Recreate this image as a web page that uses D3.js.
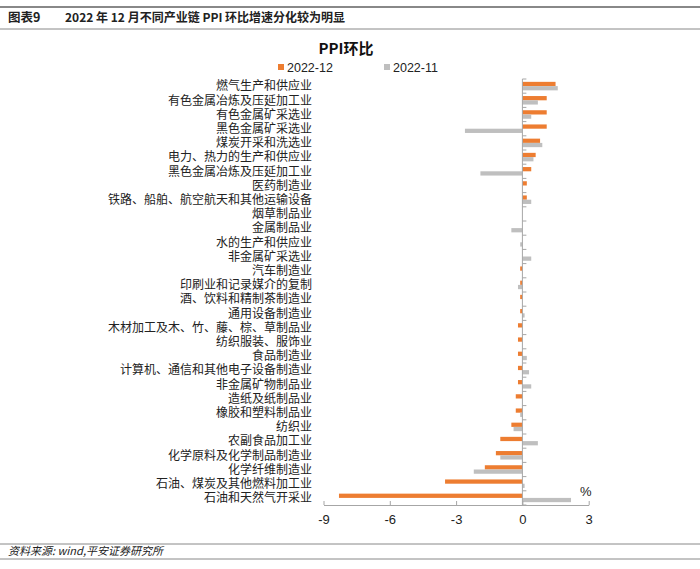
<!DOCTYPE html>
<html><head><meta charset="utf-8">
<script src="https://cdn.jsdelivr.net/npm/d3@7"></script>
<style>
body{margin:0;background:#fff;}
svg{display:block;font-family:"Liberation Sans","Noto Sans CJK SC",sans-serif;}
</style></head>
<body><svg id="c" width="700" height="569"></svg>
<script>
const categories = ["燃气生产和供应业","有色金属冶炼及压延加工业","有色金属矿采选业","黑色金属矿采选业","煤炭开采和洗选业","电力、热力的生产和供应业","黑色金属冶炼及压延加工业","医药制造业","铁路、船舶、航空航天和其他运输设备","烟草制品业","金属制品业","水的生产和供应业","非金属矿采选业","汽车制造业","印刷业和记录媒介的复制","酒、饮料和精制茶制造业","通用设备制造业","木材加工及木、竹、藤、棕、草制品业","纺织服装、服饰业","食品制造业","计算机、通信和其他电子设备制造业","非金属矿物制品业","造纸及纸制品业","橡胶和塑料制品业","纺织业","农副食品加工业","化学原料及化学制品制造业","化学纤维制造业","石油、煤炭及其他燃料加工业","石油和天然气开采业"];
const series12 = [1.5,1.1,1.1,1.1,0.8,0.6,0.4,0.2,0.2,0,0,0,0,-0.1,-0.1,-0.1,-0.1,-0.2,-0.2,-0.2,-0.2,-0.2,-0.3,-0.3,-0.5,-1.0,-1.2,-1.7,-3.5,-8.3];
const series11 = [1.6,0.7,0.4,-2.6,0.9,0.5,-1.9,0,0.4,0,-0.5,-0.1,0.4,0,-0.2,0,0.1,0,0,0.2,0.3,0.4,0,-0.1,-0.4,0.7,-1.0,-2.2,0.1,2.2];
const seriesNames = ["2022-12","2022-11"];
const xTicks = [-9,-6,-3,0,3];
const colors = ["#ED7D31","#BFBFBF"];

const svg = d3.select("#c");
// header
svg.append("line").attr("x1",0).attr("x2",700).attr("y1",7).attr("y2",7).attr("stroke","#888").attr("stroke-width",2);
svg.append("line").attr("x1",0).attr("x2",700).attr("y1",29).attr("y2",29).attr("stroke","#888").attr("stroke-width",1);
svg.append("text").attr("x",8).attr("y",22).attr("font-size",12.5).attr("font-weight","bold").attr("fill","#222")
  .attr("font-family","'Noto Sans CJK SC',sans-serif").text("图表9");
svg.append("text").attr("x",65).attr("y",22).attr("font-size",12).attr("font-weight","bold").attr("fill","#222")
  .attr("font-family","'Noto Sans CJK SC',sans-serif").text("2022 年 12 月不同产业链 PPI 环比增速分化较为明显");
// footer
svg.append("line").attr("x1",0).attr("x2",700).attr("y1",544).attr("y2",544).attr("stroke","#888").attr("stroke-width",1);
svg.append("line").attr("x1",0).attr("x2",700).attr("y1",559).attr("y2",559).attr("stroke","#888").attr("stroke-width",1);
svg.append("text").attr("x",8).attr("y",555).attr("font-size",11).attr("font-style","italic").attr("fill","#222")
  .attr("font-family","'Noto Sans CJK SC',sans-serif").text("资料来源: wind,平安证券研究所");

// title
svg.append("text").attr("x",346).attr("y",54).attr("text-anchor","middle").attr("font-size",15).attr("font-weight","bold")
  .attr("font-family","'Noto Sans CJK SC',sans-serif").attr("fill","#111").text("PPI环比");
// legend
const legX = [278,384];
seriesNames.forEach((n,i)=>{
  svg.append("rect").attr("x",legX[i]).attr("y",64).attr("width",6).attr("height",6).attr("fill",colors[i]);
  svg.append("text").attr("x",legX[i]+9).attr("y",71.5).attr("font-size",12.5).attr("fill","#222").text(n);
});

const x = d3.scaleLinear().domain([-9,3]).range([323.5,588.7]);
const y = d3.scaleBand().domain(categories).range([79,505]).paddingInner(0.4).paddingOuter(0.2);
const bh = y.bandwidth()/2;

const g = svg.append("g");
categories.forEach((c,i)=>{
  [series12[i],series11[i]].forEach((v,j)=>{
    if(v===0) return;
    g.append("rect").attr("x",x(Math.min(0,v))).attr("width",Math.abs(x(v)-x(0)))
      .attr("y",y(c)+j*bh).attr("height",bh).attr("fill",colors[j]);
  });
});

// x axis
const xa = svg.append("g").attr("transform","translate(0,505)")
  .call(d3.axisBottom(x).tickValues(xTicks).tickFormat(d=>String(d)).tickSizeInner(-4).tickSizeOuter(0).tickPadding(10));
xa.select(".domain").attr("stroke","#A6A6A6");
xa.selectAll(".tick line").attr("stroke","#A6A6A6");
xa.selectAll("text").attr("font-size",13).attr("fill","#222").attr("font-family","'Liberation Sans',sans-serif");

// y axis line at zero with ticks at band boundaries
const x0 = x(0);
svg.append("line").attr("x1",x0).attr("x2",x0).attr("y1",79).attr("y2",505).attr("stroke","#A6A6A6");
for(let i=0;i<=categories.length;i++){
  const yy = 79 + i*y.step();
  svg.append("line").attr("x1",x0).attr("x2",x0+4).attr("y1",yy).attr("y2",yy).attr("stroke","#A6A6A6");
}
// category labels
svg.append("g").selectAll("text").data(categories).join("text")
  .attr("x",312).attr("y",d=>y(d)+y.bandwidth()/2).attr("dy","0.36em")
  .attr("text-anchor","end").attr("font-size",12).attr("fill","#222")
  .attr("font-family","'Noto Sans CJK SC',sans-serif").text(d=>d);

svg.append("text").attr("x",580).attr("y",496).attr("font-size",13).attr("fill","#222").text("%");
</script></body></html>
